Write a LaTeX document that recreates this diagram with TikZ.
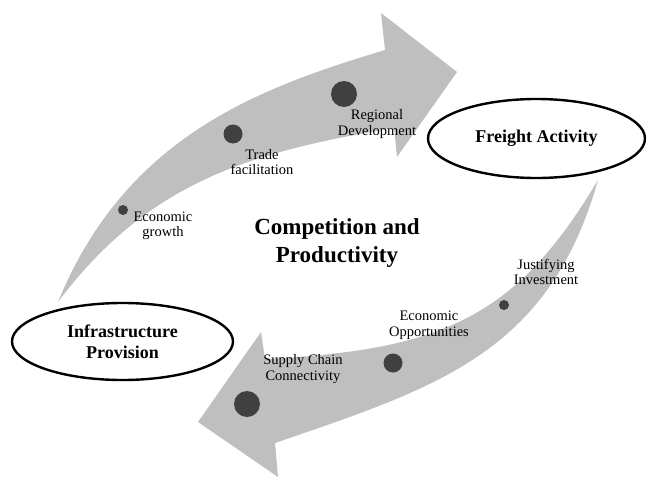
\documentclass[tikz,border=0pt]{standalone}
\usepackage{fontspec}
\setmainfont{Liberation Serif}
\usepackage{xcolor}
\usetikzlibrary{shapes.geometric}

\definecolor{bandgray}{RGB}{191,191,191}
\definecolor{beadgray}{RGB}{64,64,64}

\tikzset{
	band/.style={fill=bandgray},
	bead/.style={circle,fill=beadgray,inner sep=0pt,minimum size=#1},
	factor/.style={align=center,inner sep=0pt,font=\fontsize{14.5}{15.5}\selectfont},
	sector/.style={ellipse,draw=black,line width=2.4pt,fill=white,align=center,inner sep=0pt,font=\fontsize{18}{20.5}\selectfont\bfseries}
}

\begin{document}
\begin{tikzpicture}[x=1pt,y=-1pt]
					\useasboundingbox(0,0)rectangle(648,479);
					\fill[band](58,302)..controls(126,136)and(259,88)..(385,50)--(381,13)--(457,72)--(397,157)--(394,128)..controls(250,152)and(148,182)..(58,302)--cycle;
					\fill[band](598,180)..controls(516,318)and(442,350)..(265,359)--(261,332)--(198,422)--(278,477)--(275,443)..controls(438,387)and(549,353)..(598,180)--cycle;

					\node[sector,minimum width=217pt,minimum height=79pt](freight) at (536.5,138.5){Freight Activity};
					\node[sector,minimum width=221pt,minimum height=77pt](infra) at (122.5,341.5){Infrastructure\\Provision};
					\node[align=center,font=\fontsize{23}{28}\selectfont\bfseries](centre) at (337,243){Competition and\\Productivity};

					\node[bead=10pt](growthdot) at (123,210){};
					\node[bead=19pt](tradedot) at (233,134){};
					\node[bead=26pt](regiondot) at (344,94){};
					\node[factor](growth) at (163,226){Economic\\growth};
					\node[factor](trade) at (262,162){Trade\\facilitation};
					\node[factor](region) at (377,124){Regional\\Development};

					\node[bead=10pt](investdot) at (504,305){};
					\node[bead=19pt](oppdot) at (393,363){};
					\node[bead=26pt](supplydot) at (247,404){};
					\node[factor](invest) at (546,272){Justifying\\Investment};
					\node[factor](opp) at (429,325){Economic\\Opportunities};
					\node[factor](supply) at (303,369){Supply Chain\\Connectivity};
				\end{tikzpicture}
\end{document}
